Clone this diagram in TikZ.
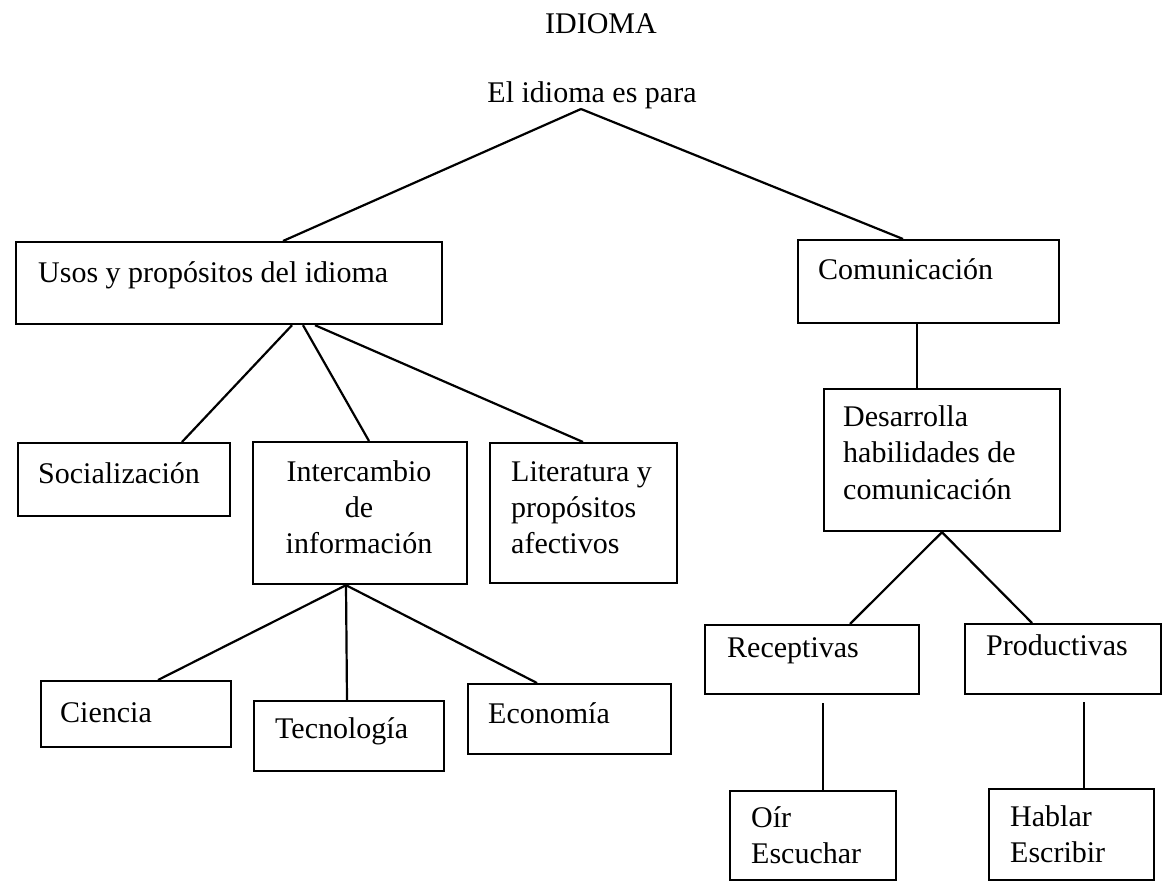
\documentclass[tikz,border=0pt]{standalone}
\usepackage{fontspec}
\setmainfont{Liberation Serif}
\begin{document}
\begin{tikzpicture}[x=1pt,y=-1pt,
  box/.style={draw, line width=2.2pt, inner sep=0pt, anchor=north west},
  txt/.style={inner sep=0pt, anchor=base west, font=\fontsize{30}{36}\selectfont},
  ctxt/.style={txt, anchor=base},
  link/.style={line width=2.2pt}]
\useasboundingbox (0,0) rectangle (1165,882);
\fill[white] (0,0) rectangle (1165,882);

% titles
\node[ctxt] (title) at (601,34) {IDIOMA};
\node[ctxt] (para) at (592,103) {El idioma es para};
\coordinate (apex) at (581,109);

% boxes
\node[box, minimum width=426pt, minimum height=82pt] (usos) at (15,241) {};
\node[box, minimum width=261pt, minimum height=83pt] (comun) at (797,239) {};
\node[box, minimum width=236pt, minimum height=142pt] (desarr) at (823,388) {};
\node[box, minimum width=214pt, minimum height=69pt] (recep) at (704,624) {};
\node[box, minimum width=196pt, minimum height=70pt] (produc) at (964,623) {};
\node[box, minimum width=166pt, minimum height=89pt] (oir) at (729,790) {};
\node[box, minimum width=165pt, minimum height=91pt] (hablar) at (988,788) {};
\node[box, minimum width=212pt, minimum height=73pt] (social) at (17,442) {};
\node[box, minimum width=214pt, minimum height=142pt] (interc) at (252,441) {};
\node[box, minimum width=187pt, minimum height=140pt] (liter) at (489,442) {};
\node[box, minimum width=190pt, minimum height=66pt] (ciencia) at (40,680) {};
\node[box, minimum width=190pt, minimum height=70pt] (tecno) at (253,700) {};
\node[box, minimum width=203pt, minimum height=70pt] (econ) at (467,683) {};

% texts
\node[txt] (t-usos) at (38,283) {Usos y propósitos del idioma};
\node[txt] (t-comun) at (818,280) {Comunicación};
\node[txt] (t-des1) at (843,427) {Desarrolla};
\node[txt] (t-des2) at (843,463) {habilidades de};
\node[txt] (t-des3) at (843,500) {comunicación};
\node[txt] (t-recep) at (727,657) {Receptivas};
\node[txt] (t-produc) at (986,655) {Productivas};
\node[txt] (t-oir1) at (751,827) {Oír};
\node[txt] (t-oir2) at (751,863) {Escuchar};
\node[txt] (t-hab1) at (1010,826) {Hablar};
\node[txt] (t-hab2) at (1010,862) {Escribir};
\node[txt] (t-social) at (38,483) {Socialización};
\node[ctxt] (t-int1) at (359,482) {Intercambio};
\node[ctxt] (t-int2) at (359,517) {de};
\node[ctxt] (t-int3) at (359,553) {información};
\node[txt] (t-lit1) at (511,482) {Literatura y};
\node[txt] (t-lit2) at (511,517) {propósitos};
\node[txt] (t-lit3) at (511,553) {afectivos};
\node[txt] (t-ciencia) at (60,722) {Ciencia};
\node[txt] (t-tecno) at (275,738) {Tecnología};
\node[txt] (t-econ) at (488,723) {Economía};

% connectors
\draw[link] (apex) -- ([xshift=268pt]usos.north west);
\draw[link] (apex) -- ([xshift=106pt]comun.north west);
\draw[link] ([xshift=277pt]usos.south west) -- ([xshift=165pt]social.north west);
\draw[link] ([xshift=288pt]usos.south west) -- ([xshift=117pt]interc.north west);
\draw[link] ([xshift=300pt]usos.south west) -- ([xshift=94pt]liter.north west);
\draw[link] ([xshift=94pt]interc.south west) -- ([xshift=118pt]ciencia.north west);
\draw[link] ([xshift=94pt]interc.south west) -- ([xshift=94pt]tecno.north west);
\draw[link] ([xshift=94pt]interc.south west) -- ([xshift=70pt]econ.north west);
\draw[link] ([xshift=120pt]comun.south west) -- ([xshift=94pt]desarr.north west);
\draw[link] ([xshift=119pt]desarr.south west) -- ([xshift=146pt]recep.north west);
\draw[link] ([xshift=119pt]desarr.south west) -- ([xshift=68pt]produc.north west);
\draw[link] ([xshift=119pt,yshift=-8pt]recep.south west) -- ([xshift=94pt]oir.north west);
\draw[link] ([xshift=120pt,yshift=-7pt]produc.south west) -- ([xshift=96pt]hablar.north west);
\end{tikzpicture}
\end{document}
